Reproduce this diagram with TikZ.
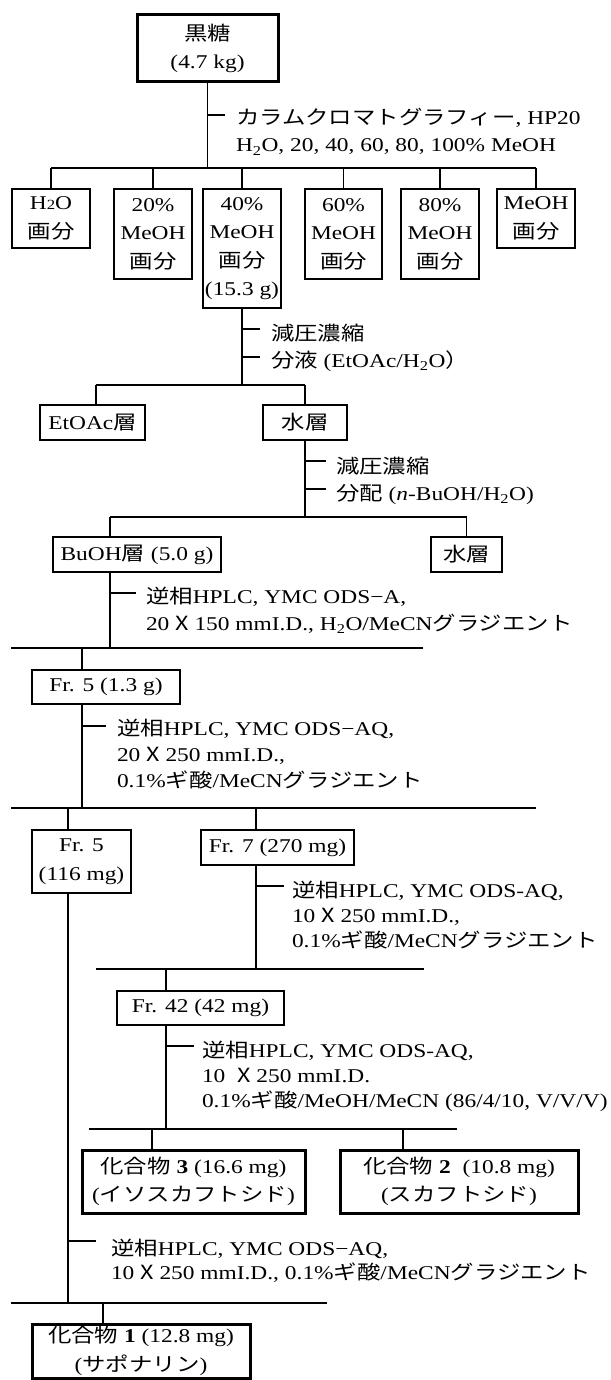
\documentclass[tikz,border=0pt]{standalone}
\usepackage{fontspec}
\setmainfont[FakeStretch=1.2]{Liberation Serif}
\newfontfamily\jp[FakeStretch=1.2]{Noto Sans CJK JP}
\usetikzlibrary{calc}
\newcommand{\jx}{{\jp X}}
\newcommand{\hto}{H\textsubscript{2}O}
\newcommand{\rbox}[7][box]{\node[#1, minimum width={#5-#3}, minimum height={#6-#4}] (#2) at ({(#3+#5)/2},{(#4+#6)/2}) {#7};}
\begin{document}
\begin{tikzpicture}[x=1pt,y=-1pt,
  every node/.style={inner sep=0pt, outer sep=0pt},
  box/.style={draw, line width=1.2pt, align=center, font=\fontsize{19.5}{28.5}\selectfont},
  tbox/.style={box, line width=3pt},
  conn/.style={line width=1.3pt},
  note/.style={anchor=base west, align=left}]
\fill[white] (0,0) rectangle (610,1380);
\path[use as bounding box] (0,0) rectangle (610,1380);

% boxes
\rbox[tbox]{top}{137}{15}{278}{82}{{\jp 黒糖}\\(4.7 kg)}
\rbox{f0}{12}{189}{90}{248}{H{\fontsize{14}{14}\selectfont 2}O\\{\jp 画分}}
\rbox{f20}{114}{189}{192}{279}{20\%\\MeOH\\{\jp 画分}}
\rbox{f40}{203}{189}{281}{308}{40\%\\MeOH\\{\jp 画分}\\(15.3 g)}
\rbox{f60}{305}{189}{382}{279}{60\%\\MeOH\\{\jp 画分}}
\rbox{f80}{401}{189}{479}{279}{80\%\\MeOH\\{\jp 画分}}
\rbox{fMe}{497}{189}{575}{248}{MeOH\\{\jp 画分}}
\rbox{eto}{40}{405}{145}{440}{EtOAc{\jp 層}}
\rbox{wl1}{263}{405}{347}{440}{{\jp 水層}}
\rbox{buoh}{53}{537}{221}{572}{BuOH{\jp 層} (5.0 g)}
\rbox{wl2}{431}{537}{502}{572}{{\jp 水層}}
\rbox{fra}{32}{670}{180}{704}{Fr. 5 (1.3 g)}
\rbox{frb}{32}{830}{131}{893}{Fr. 5\\(116 mg)}
\rbox{frs}{201}{830}{354}{865}{Fr. 7 (270 mg)}
\rbox{frf}{117}{991}{284}{1025}{Fr. 42 (42 mg)}
\rbox[tbox]{cpd3}{82}{1150}{305}{1213}{{\jp 化合物} \textbf{3} (16.6 mg)\\({\jp イソスカフトシド})}
\rbox[tbox]{cpd2}{340}{1150}{578}{1213}{{\jp 化合物} \textbf{2}\ \ (10.8 mg)\\({\jp スカフトシド})}
\rbox[tbox]{cpd1}{32}{1324}{250}{1378}{{\jp 化合物} \textbf{1} (12.8 mg)\\({\jp サポナリン})}

% junction coordinates
\coordinate (b1) at (0,168);
\coordinate (b2L) at (96,385);
\coordinate (b3L) at (110,517);
\coordinate (b4L) at (11,648);  \coordinate (b4R) at (423,648);
\coordinate (d4) at (82,648);
\coordinate (b5L) at (11,808);  \coordinate (b5R) at (536,808);
\coordinate (d5a) at (68,808);  \coordinate (d5b) at (256,808);
\coordinate (b6L) at (96,969);  \coordinate (b6R) at (424,969);
\coordinate (d6) at (166,969);
\coordinate (b7L) at (89,1129); \coordinate (b7R) at (457,1129);
\coordinate (d7a) at (152,1129); \coordinate (d7b) at (403,1129);
\coordinate (b8L) at (11,1303); \coordinate (b8R) at (327,1303);
\coordinate (d8) at (103,1303);

\begin{scope}[conn]
% step 1
\draw (top.south) -- (top.south |- b1);
\draw (f0.north |- b1) -- (fMe.north |- b1);
\foreach \n in {f0,f20,f40,f60,f80,fMe} \draw (\n.north) -- (\n.north |- b1);
\draw (top.south |- 0,115) -- ++(17,0);
% step 2
\draw (f40.south) -- (f40.south |- b2L);
\draw (b2L) -- (wl1.north |- b2L);
\draw (b2L) -- (b2L |- eto.north);
\draw (wl1.north |- b2L) -- (wl1.north);
\draw (f40.south |- 0,329) -- ++(18,0);
\draw (f40.south |- 0,357) -- ++(18,0);
% step 3
\draw (wl1.south) -- (wl1.south |- b3L);
\draw (b3L) -- (wl2.north |- b3L);
\draw (b3L) -- (b3L |- buoh.north);
\draw (wl2.north |- b3L) -- (wl2.north);
\draw (wl1.south |- 0,461) -- ++(21,0);
\draw (wl1.south |- 0,489) -- ++(21,0);
% step 4
\draw (buoh.south -| b3L) -- (b3L |- b4L);
\draw (b4L) -- (b4R);
\draw (d4) -- (d4 |- fra.north);
\draw (b3L |- 0,593) -- ++(26,0);
% step 5
\draw (fra.south -| d4) -- (d4 |- b5L);
\draw (b5L) -- (b5R);
\draw (d5a) -- (d5a |- frb.north);
\draw (d5b) -- (d5b |- frs.north);
\draw (d4 |- 0,726) -- ++(24,0);
% step 6
\draw (frs.south -| d5b) -- (d5b |- b6L);
\draw (b6L) -- (b6R);
\draw (d6) -- (d6 |- frf.north);
\draw (d5b |- 0,886) -- ++(28,0);
% step 7
\draw (frf.south -| d6) -- (d6 |- b7L);
\draw (b7L) -- (b7R);
\draw (d7a) -- (d7a |- cpd3.north);
\draw (d7b) -- (d7b |- cpd2.north);
\draw (d6 |- 0,1046) -- ++(28,0);
% step 8
\draw (frb.south -| d5a) -- (d5a |- b8L);
\draw (b8L) -- (b8R);
\draw (d8) -- (d8 |- cpd1.north);
\draw (d5a |- 0,1241) -- ++(28,0);
\end{scope}

% notes (base anchor = baseline of the last line)
\node[note, font=\fontsize{19.5}{27}\selectfont] (n1) at (236,152)
  {{\jp カラムクロマトグラフィー}, HP20\\\hto, 20, 40, 60, 80, 100\% MeOH};
\node[note, font=\fontsize{19.5}{27.5}\selectfont] (n2) at (271,367.5)
  {{\jp 減圧濃縮}\\{\jp 分液} (EtOAc/\hto{\jp ）}};
\node[note, font=\fontsize{19.5}{27.5}\selectfont] (n3) at (336,500.5)
  {{\jp 減圧濃縮}\\{\jp 分配} (\textit{n}-BuOH/\hto)};
\node[note, font=\fontsize{19.5}{27}\selectfont] (n4) at (146,630)
  {{\jp 逆相}HPLC, YMC ODS−A,\\20 \jx\ 150 mmI.D., \hto/MeCN{\jp グラジエント}};
\node[note, font=\fontsize{19.5}{26}\selectfont] (n5) at (117,787)
  {{\jp 逆相}HPLC, YMC ODS−AQ,\\20 \jx\ 250 mmI.D.,\\0.1\%{\jp ギ酸}/MeCN{\jp グラジエント}};
\node[note, font=\fontsize{19.5}{25}\selectfont] (n6) at (292,947)
  {{\jp 逆相}HPLC, YMC ODS-AQ,\\10 \jx\ 250 mmI.D.,\\0.1\%{\jp ギ酸}/MeCN{\jp グラジエント}};
\node[note, font=\fontsize{19.5}{25}\selectfont] (n7) at (202,1107)
  {{\jp 逆相}HPLC, YMC ODS-AQ,\\10\ \ \jx\ 250 mmI.D.\\0.1\%{\jp ギ酸}/MeOH/MeCN (86/4/10, V/V/V)};
\node[note, font=\fontsize{19.5}{24}\selectfont] (n8) at (111,1279)
  {{\jp 逆相}HPLC, YMC ODS−AQ,\\10 \jx\ 250 mmI.D., 0.1\%{\jp ギ酸}/MeCN{\jp グラジエント}};
\end{tikzpicture}
\end{document}
